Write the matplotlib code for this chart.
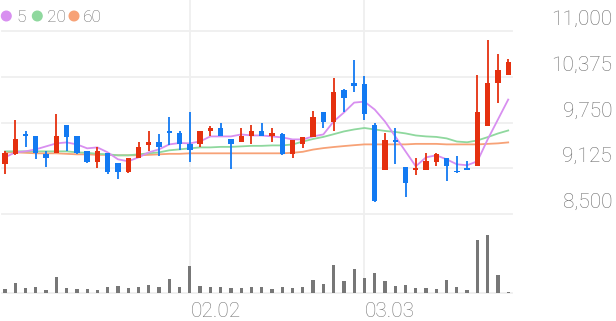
import matplotlib.pyplot as plt
from matplotlib.patches import Ellipse

# daily candles (50 sessions), prices in won
opens = [9180, 9320, 9590, 9560, 9320, 9340, 9720, 9560, 9360, 9210,
         9340, 9190, 9080, 9260, 9440, 9490, 9630, 9610, 9460, 9460,
         9630, 9680, 9530, 9480, 9560, 9640, 9570, 9590, 9320, 9460,
         9550, 9900, 9760, 10200, 10290, 10270, 9720, 9100, 9510, 9140,
         9100, 9100, 9210, 9270, 9080, 9130, 9150, 9700, 10290, 10400]
highs = [9360, 9780, 9630, 9560, 9360, 9870, 9720, 9560, 9360, 9410,
         9340, 9190, 9270, 9490, 9630, 9590, 9830, 9640, 9900, 9640,
         9700, 9750, 9530, 9680, 9710, 9740, 9670, 9600, 9510, 9550,
         9910, 9900, 10360, 10210, 10610, 10390, 9750, 9600, 9670, 9140,
         9270, 9340, 9340, 9270, 9290, 9230, 10400, 10880, 10690, 10620]
lows = [9040, 9310, 9420, 9250, 9140, 9340, 9360, 9320, 9190, 9130,
        9040, 8980, 9060, 9260, 9360, 9290, 9440, 9380, 9210, 9410,
        9560, 9560, 9110, 9480, 9460, 9560, 9490, 9300, 9260, 9400,
        9550, 9670, 9630, 9890, 10170, 9790, 8660, 9100, 9180, 8730,
        9030, 9100, 9150, 8950, 9060, 9100, 9150, 9700, 10020, 10400]
closes = [9340, 9520, 9560, 9340, 9270, 9570, 9550, 9340, 9210, 9360,
          9080, 9080, 9270, 9420, 9480, 9410, 9600, 9460, 9380, 9640,
          9680, 9570, 9450, 9560, 9640, 9560, 9600, 9320, 9510, 9550,
          9820, 9760, 10160, 10090, 10250, 9860, 8680, 9510, 9480, 8930,
          9130, 9220, 9320, 9150, 9070, 9100, 9900, 10290, 10470, 10570]

ma5 = [9274, 9342, 9356, 9383, 9424, 9465, 9478, 9451, 9397, 9410,
       9342, 9247, 9220, 9274, 9342, 9383, 9451, 9470, 9465, 9492,
       9560, 9560, 9560, 9587, 9573, 9573, 9560, 9546, 9519, 9519,
       9560, 9587, 9764, 9886, 10022, 10035, 9927, 9764, 9560, 9356,
       9152, 9274, 9302, 9247, 9179, 9166, 9220, 9519, 9791, 10063]
ma20 = [9356, 9356, 9356, 9356, 9356, 9356, 9356, 9342, 9336, 9322,
        9315, 9302, 9302, 9315, 9329, 9342, 9370, 9383, 9397, 9410,
        9410, 9417, 9417, 9424, 9431, 9431, 9437, 9437, 9450, 9490,
        9525, 9553, 9590, 9628, 9655, 9675, 9655, 9635, 9621, 9601,
        9573, 9560, 9553, 9533, 9490, 9480, 9505, 9550, 9600, 9641]
ma60 = [9342, 9342, 9336, 9329, 9329, 9329, 9322, 9315, 9315, 9308,
        9308, 9302, 9302, 9302, 9308, 9315, 9322, 9322, 9329, 9329,
        9329, 9329, 9329, 9329, 9329, 9329, 9329, 9329, 9336, 9350,
        9380, 9400, 9415, 9428, 9440, 9451, 9451, 9451, 9451, 9451,
        9458, 9458, 9458, 9451, 9451, 9451, 9451, 9458, 9465, 9478]

volume = [40, 100, 50, 60, 30, 160, 50, 40, 40, 30,
          60, 70, 50, 60, 80, 60, 140, 60, 270, 70,
          60, 60, 50, 50, 60, 60, 40, 60, 50, 60,
          130, 90, 280, 117, 240, 150, 200, 117, 67, 77,
          47, 50, 40, 127, 63, 27, 527, 580, 180, 7]

date_pos = [18, 35]
date_labels = ['02.02', '03.03']
price_ticks = [8500, 9125, 9750, 10375, 11000]
ma_names = ['5', '20', '60']

UP = '#e5300f'
DOWN = '#137af2'
MA_COLORS = ['#d88ff0', '#8fd89e', '#f7a277']
GRID = '#efefef'
TXT = '#6a6a6a'
FONT = 'Roboto'

W, H = 616, 321
fig = plt.figure(figsize=(W / 100, H / 100), dpi=100)


def px_axes(left, top, right, bottom):
    a = fig.add_axes([left / W, 1 - bottom / H, (right - left) / W, (bottom - top) / H])
    a.set_axis_off()
    return a


ax = px_axes(2, 0, 512, 214)
axv = px_axes(2, 214, 512, 293)

x = list(range(len(closes)))
xlim = (-0.292, 49.37)
ax.set_xlim(*xlim)
axv.set_xlim(*xlim)
ax.set_ylim(8500, 11000 + 31 * 2500 / 183)
axv.set_ylim(0, 790)

# grid
for p in price_ticks:
    ax.axhline(p, color=GRID, lw=1.3, zorder=0, clip_on=False)
axv.axhline(0, color=GRID, lw=1.3, zorder=0, clip_on=False)
for i in date_pos:
    ax.axvline(i, color=GRID, lw=1.3, zorder=0)
    axv.axvline(i, color=GRID, lw=1.3, zorder=0)

# moving averages (behind candles)
for ma, c in zip([ma60, ma20, ma5], MA_COLORS[::-1]):
    ax.plot(x, ma, color=c, lw=1.3, zorder=2)

# candles
colors = [UP if c >= o else DOWN for o, c in zip(opens, closes)]
bottoms = [min(o, c) for o, c in zip(opens, closes)]
heights = [max(abs(c - o), 16) for o, c in zip(opens, closes)]
ax.vlines(x, lows, highs, colors=colors, lw=1.3, zorder=3)
ax.bar(x, heights, bottom=bottoms, width=0.52, color=colors, zorder=4)

# volume
axv.bar(x, volume, width=0.32, color='#777777', zorder=2)

# price labels on the right
for p in price_ticks:
    ax.annotate(f'{p:,}', xy=(1, p), xycoords=('axes fraction', 'data'),
                xytext=(72, 4.3), textcoords='offset points', ha='right',
                va='baseline', fontsize=15, color=TXT, family=FONT,
                fontweight='light')

# date labels
for i, lbl in zip(date_pos, date_labels):
    axv.annotate(lbl, xy=(i, 0), xycoords=('data', 'axes fraction'),
                 xytext=(0.3, -17), textcoords='offset points', ha='left',
                 va='baseline', fontsize=15, color='#777777', family=FONT,
                 fontweight='light')

# legend
dot_x = [6.3, 37.3, 74]
text_x = [16, 46.5, 83]
for dx, tx, name, c in zip(dot_x, text_x, ma_names, MA_COLORS):
    fig.add_artist(Ellipse((dx / W, 1 - 16 / H), 9.6 / W, 9.6 / H,
                           transform=fig.transFigure, color=c))
    fig.text(tx / W, 1 - 22.3 / H, name, ha='left', va='baseline',
             fontsize=12.5, color=TXT, family=FONT, fontweight='light')

fig.savefig('out.png', dpi=100)
